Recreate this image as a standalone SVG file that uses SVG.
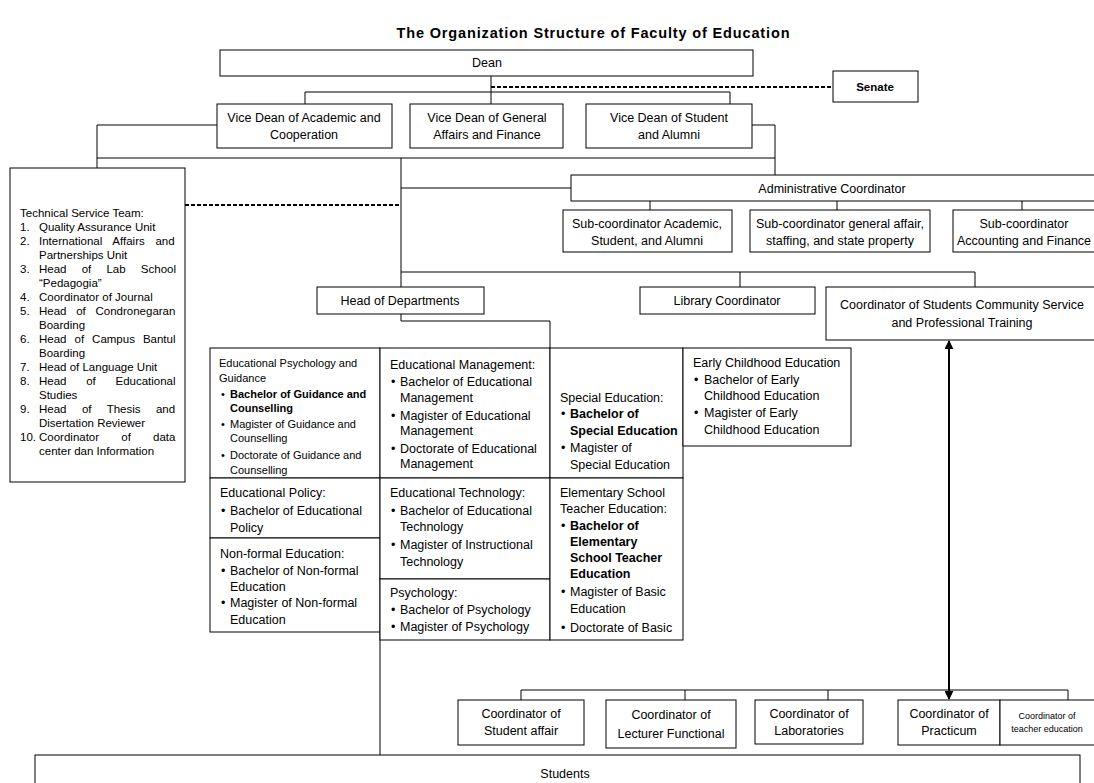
<svg xmlns="http://www.w3.org/2000/svg" width="1094" height="783" viewBox="0 0 1094 783">
<defs>
<style>
.b{fill:#fff;stroke:#000;stroke-width:1}
.t{font-family:"Liberation Sans",Arial,sans-serif;font-size:12.5px;fill:#000}
.c{text-anchor:middle}
.s{font-size:11.5px}
.e{font-size:11px}
.bd{font-weight:bold}
.ln{fill:none;stroke:#000;stroke-width:1}
.dash{fill:none;stroke:#000;stroke-width:2;stroke-dasharray:4 2}
.arr{fill:none;stroke:#000;stroke-width:2}
</style>
<marker id="ah" viewBox="0 0 10 10" refX="9" refY="5" markerWidth="4.5" markerHeight="4.5" orient="auto-start-reverse">
<path d="M0,0 L10,5 L0,10 z" fill="#000"/>
</marker>
</defs>
<rect width="1094" height="783" fill="#fff"/>
<text class="t bd c" x="593" y="38" style="font-size:14.5px" textLength="393" lengthAdjust="spacing">The Organization Structure of Faculty of Education</text>

<g id="connectors">
<line class="ln" x1="491" y1="76" x2="491" y2="104"/>
<polyline class="ln" points="305,104 305,92 730,92 730,104"/>
<line class="dash" x1="491" y1="87" x2="833" y2="87"/>
<polyline class="ln" points="217,125 97,125 97,168"/>
<line class="ln" x1="97" y1="158" x2="775" y2="158"/>
<polyline class="ln" points="752,125 775,125 775,175"/>
<line class="ln" x1="401" y1="158" x2="401" y2="287"/>
<line class="ln" x1="401" y1="188" x2="571" y2="188"/>
<line class="dash" x1="185" y1="205" x2="401" y2="205"/>
<line class="ln" x1="650" y1="201" x2="650" y2="210"/>
<line class="ln" x1="837" y1="201" x2="837" y2="210"/>
<line class="ln" x1="1022" y1="201" x2="1022" y2="210"/>
<line class="ln" x1="401" y1="272" x2="975" y2="272"/>
<line class="ln" x1="740" y1="272" x2="740" y2="287"/>
<line class="ln" x1="975" y1="272" x2="975" y2="287"/>
<polyline class="ln" points="401,314 401,321 550,321 550,349"/>
<line class="ln" x1="380" y1="632" x2="380" y2="755"/>
<line class="ln" x1="521" y1="690" x2="1068" y2="690"/>
<line class="ln" x1="521" y1="690" x2="521" y2="700"/>
<line class="ln" x1="685" y1="690" x2="685" y2="700"/>
<line class="ln" x1="828" y1="690" x2="828" y2="700"/>
<line class="ln" x1="1068" y1="690" x2="1068" y2="700"/>
<line class="arr" x1="949" y1="341" x2="949" y2="699" marker-start="url(#ah)" marker-end="url(#ah)"/>
</g>

<g id="dean"><rect class="b" x="220" y="50" width="533" height="26"/><text class="t c" x="487" y="67">Dean</text></g>
<g id="senate"><rect class="b" x="833" y="71" width="85" height="31"/><text class="t c bd" x="875" y="91" style="font-size:11.5px">Senate</text></g>

<g id="vd-academic"><rect class="b" x="217" y="104" width="175" height="44"/><text class="t c" x="304" y="122">Vice Dean of Academic and</text><text class="t c" x="304" y="139">Cooperation</text></g>
<g id="vd-general"><rect class="b" x="410" y="104" width="153" height="44"/><text class="t c" x="487" y="122">Vice Dean of General</text><text class="t c" x="487" y="139">Affairs and Finance</text></g>
<g id="vd-student"><rect class="b" x="586" y="104" width="166" height="44"/><text class="t c" x="669" y="122">Vice Dean of Student</text><text class="t c" x="669" y="139">and Alumni</text></g>

<g id="technical">
<rect class="b" x="10" y="168" width="175" height="314"/>
<g class="t s">
<text x="20" y="217">Technical Service Team:</text>
<text x="20" y="231">1.</text><text x="39" y="231">Quality Assurance Unit</text>
<text x="20" y="245">2.</text><text x="39" y="245" style="word-spacing:7.5px">International Affairs and</text>
<text x="39" y="259">Partnerships Unit</text>
<text x="20" y="273">3.</text><text x="39" y="273" style="word-spacing:12px">Head of Lab School</text>
<text x="39" y="287">“Pedagogia”</text>
<text x="20" y="301">4.</text><text x="39" y="301">Coordinator of Journal</text>
<text x="20" y="315">5.</text><text x="39" y="315" style="word-spacing:6.5px">Head of Condronegaran</text>
<text x="39" y="329">Boarding</text>
<text x="20" y="343">6.</text><text x="39" y="343" style="word-spacing:4.8px">Head of Campus Bantul</text>
<text x="39" y="357">Boarding</text>
<text x="20" y="371">7.</text><text x="39" y="371">Head of Language Unit</text>
<text x="20" y="385">8.</text><text x="39" y="385" style="word-spacing:16.5px">Head of Educational</text>
<text x="39" y="399">Studies</text>
<text x="20" y="413">9.</text><text x="39" y="413" style="word-spacing:12.2px">Head of Thesis and</text>
<text x="39" y="427">Disertation Reviewer</text>
<text x="20" y="441">10.</text><text x="39" y="441" style="word-spacing:19px">Coordinator of data</text>
<text x="39" y="455">center dan Information</text>
</g>
</g>

<g id="admin"><rect class="b" x="571" y="175" width="535" height="26"/><text class="t c" x="832" y="193">Administrative Coordinator</text></g>
<g id="sub-academic"><rect class="b" x="563" y="210" width="169" height="42"/><text class="t c" x="647" y="228">Sub-coordinator Academic,</text><text class="t c" x="647" y="245">Student, and Alumni</text></g>
<g id="sub-general"><rect class="b" x="750" y="210" width="180" height="42"/><text class="t c" x="840" y="228">Sub-coordinator general affair,</text><text class="t c" x="840" y="245">staffing, and state property</text></g>
<g id="sub-accounting"><rect class="b" x="953" y="210" width="153" height="42"/><text class="t c" x="1024" y="228">Sub-coordinator</text><text class="t c" x="1024" y="245">Accounting and Finance</text></g>

<g id="head-departments"><rect class="b" x="317" y="287" width="167" height="27"/><text class="t c" x="400" y="305">Head of Departments</text></g>
<g id="library"><rect class="b" x="640" y="287" width="175" height="27"/><text class="t c" x="727" y="305">Library Coordinator</text></g>
<g id="community"><rect class="b" x="826" y="287" width="280" height="53"/><text class="t c" x="962" y="309">Coordinator of Students Community Service</text><text class="t c" x="962" y="327">and Professional Training</text></g>

<g id="dept-epg">
<rect class="b" x="210" y="348" width="170" height="130"/>
<g class="t e">
<text x="219" y="367">Educational Psychology and</text>
<text x="219" y="382">Guidance</text>
<text x="221" y="398">•</text><text x="230" y="398" class="bd">Bachelor of Guidance and</text>
<text x="230" y="412" class="bd">Counselling</text>
<text x="221" y="428">•</text><text x="230" y="428">Magister of Guidance and</text>
<text x="230" y="442">Counselling</text>
<text x="221" y="459">•</text><text x="230" y="459">Doctorate of Guidance and</text>
<text x="230" y="474">Counselling</text>
</g>
</g>
<g id="dept-em">
<rect class="b" x="380" y="348" width="170" height="130"/>
<g class="t">
<text x="390" y="369">Educational Management:</text>
<text x="391" y="386">•</text><text x="400" y="386">Bachelor of Educational</text>
<text x="400" y="402">Management</text>
<text x="391" y="420">•</text><text x="400" y="420">Magister of Educational</text>
<text x="400" y="435">Management</text>
<text x="391" y="453">•</text><text x="400" y="453">Doctorate of Educational</text>
<text x="400" y="468">Management</text>
</g>
</g>
<g id="dept-se">
<rect class="b" x="550" y="348" width="133" height="130"/>
<g class="t">
<text x="560" y="402">Special Education:</text>
<text x="561" y="418">•</text><text x="570" y="418" class="bd">Bachelor of</text>
<text x="570" y="435" class="bd">Special Education</text>
<text x="561" y="452">•</text><text x="570" y="452">Magister of</text>
<text x="570" y="469">Special Education</text>
</g>
</g>
<g id="dept-ece">
<rect class="b" x="683" y="348" width="168" height="98"/>
<g class="t">
<text x="693" y="367">Early Childhood Education</text>
<text x="694" y="384">•</text><text x="704" y="384">Bachelor of Early</text>
<text x="704" y="400">Childhood Education</text>
<text x="694" y="417">•</text><text x="704" y="417">Magister of Early</text>
<text x="704" y="434">Childhood Education</text>
</g>
</g>
<g id="dept-ep">
<rect class="b" x="210" y="478" width="170" height="60"/>
<g class="t">
<text x="220" y="497">Educational Policy:</text>
<text x="221" y="515">•</text><text x="230" y="515">Bachelor of Educational</text>
<text x="230" y="532">Policy</text>
</g>
</g>
<g id="dept-nfe">
<rect class="b" x="210" y="538" width="170" height="94"/>
<g class="t">
<text x="220" y="558">Non-formal Education:</text>
<text x="221" y="575">•</text><text x="230" y="575">Bachelor of Non-formal</text>
<text x="230" y="591">Education</text>
<text x="221" y="607">•</text><text x="230" y="607">Magister of Non-formal</text>
<text x="230" y="624">Education</text>
</g>
</g>
<g id="dept-et">
<rect class="b" x="380" y="478" width="170" height="101"/>
<g class="t">
<text x="390" y="497">Educational Technology:</text>
<text x="391" y="515">•</text><text x="400" y="515">Bachelor of Educational</text>
<text x="400" y="531">Technology</text>
<text x="391" y="549">•</text><text x="400" y="549">Magister of Instructional</text>
<text x="400" y="566">Technology</text>
</g>
</g>
<g id="dept-psy">
<rect class="b" x="380" y="579" width="170" height="61"/>
<g class="t">
<text x="390" y="597">Psychology:</text>
<text x="391" y="614">•</text><text x="400" y="614">Bachelor of Psychology</text>
<text x="391" y="631">•</text><text x="400" y="631">Magister of Psychology</text>
</g>
</g>
<g id="dept-este">
<rect class="b" x="550" y="478" width="133" height="162"/>
<g class="t">
<text x="560" y="497">Elementary School</text>
<text x="560" y="513">Teacher Education:</text>
<text x="561" y="530">•</text><text x="570" y="530" class="bd">Bachelor of</text>
<text x="570" y="546" class="bd">Elementary</text>
<text x="570" y="562" class="bd">School Teacher</text>
<text x="570" y="578" class="bd">Education</text>
<text x="561" y="596">•</text><text x="570" y="596">Magister of Basic</text>
<text x="570" y="613">Education</text>
<text x="561" y="632">•</text><text x="570" y="632">Doctorate of Basic</text>
</g>
</g>

<g id="coord-student-affair"><rect class="b" x="458" y="700" width="126" height="45"/><text class="t c" x="521" y="718">Coordinator of</text><text class="t c" x="521" y="735">Student affair</text></g>
<g id="coord-lecturer"><rect class="b" x="606" y="700" width="130" height="48"/><text class="t c" x="671" y="719">Coordinator of</text><text class="t c" x="671" y="738">Lecturer Functional</text></g>
<g id="coord-labs"><rect class="b" x="755" y="700" width="108" height="44"/><text class="t c" x="809" y="718">Coordinator of</text><text class="t c" x="809" y="735">Laboratories</text></g>
<g id="coord-practicum"><rect class="b" x="898" y="700" width="102" height="45"/><text class="t c" x="949" y="718">Coordinator of</text><text class="t c" x="949" y="735">Practicum</text></g>
<g id="coord-teacher"><rect class="b" x="1000" y="700" width="100" height="45"/><text class="t c" x="1047" y="719" style="font-size:9px">Coordinator of</text><text class="t c" x="1047" y="732" style="font-size:9px">teacher education</text></g>

<g id="students"><rect class="b" x="35" y="755" width="1045" height="40"/><text class="t c" x="565" y="778">Students</text></g>
</svg>
